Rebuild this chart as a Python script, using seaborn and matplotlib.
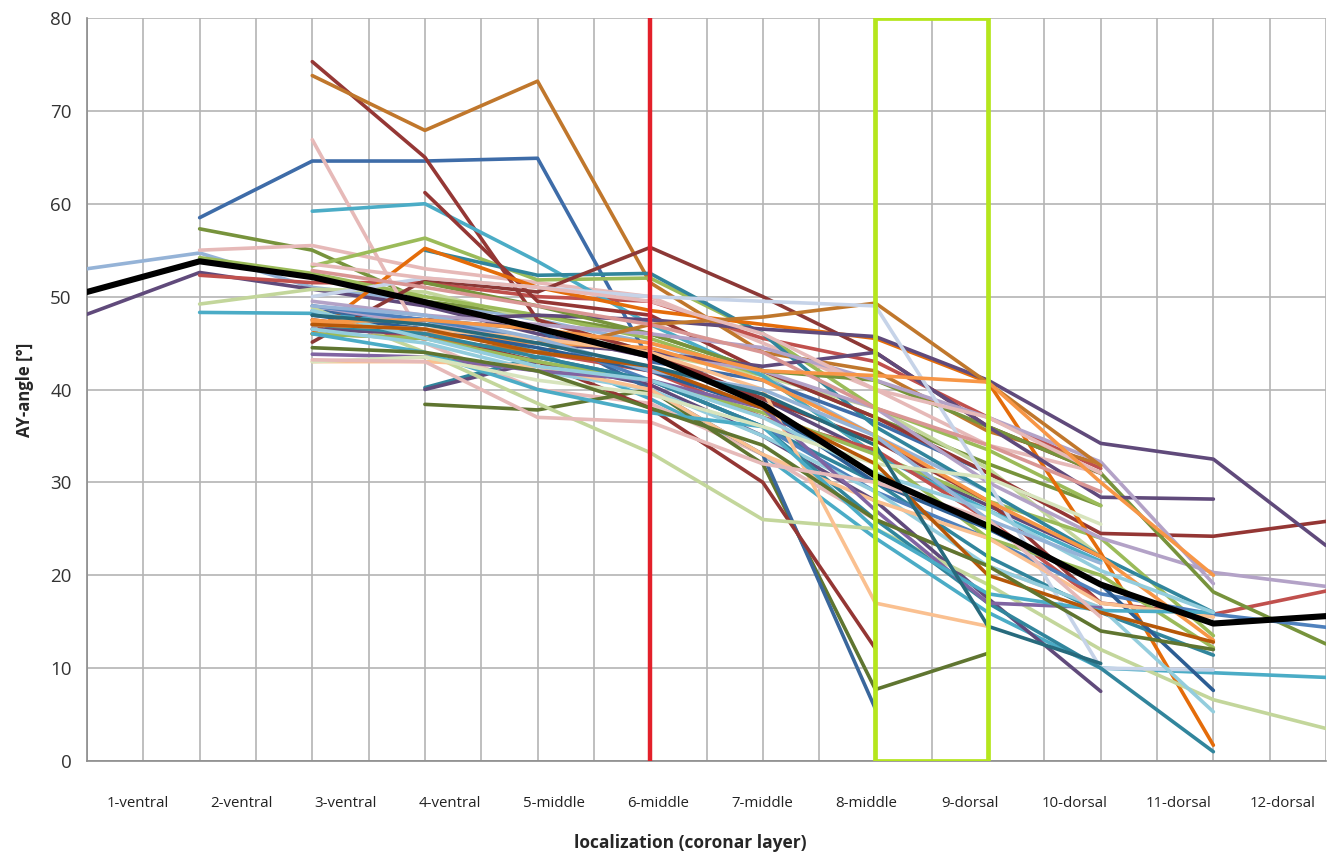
import numpy as np
import pandas as pd
import matplotlib
matplotlib.use("Agg")
import matplotlib.pyplot as plt
import matplotlib.transforms as mtransforms
from matplotlib.patches import Rectangle
import seaborn as sns

N = np.nan

# categories (coronar layers)
layers = ["1-ventral", "2-ventral", "3-ventral", "4-ventral", "5-middle", "6-middle",
          "7-middle", "8-middle", "9-dorsal", "10-dorsal", "11-dorsal", "12-dorsal"]

# mean curve (black)
mean_angle = [50.5, 53.8, 52.1, 49.4, 46.6, 43.6, 38.4, 30.7, 25.3, 19.0, 14.8, 15.6]

# individual specimens, AY-angle per layer (NaN = not measured)
s01 = [53.0, 54.7, 51.0, 49.5, 47.5, 45.0, 41.5, 35.0, 29.0, N, N, N]
s02 = [48.1, 52.6, 50.8, 49.0, 46.0, 43.5, 39.0, 33.0, 27.5, 22.0, N, N]
s03 = [N, 58.5, 64.6, 64.6, 64.9, 43.0, 41.0, 36.5, 31.0, N, N, N]
s04 = [N, 57.3, 55.0, 49.5, 48.0, 46.0, 42.0, 37.0, 32.0, 27.5, N, N]
s05 = [N, 55.0, 55.5, 53.0, 51.5, 50.0, 45.0, 40.0, 34.0, 31.0, N, N]
s06 = [N, 52.3, 51.5, 51.5, 50.0, 49.5, 45.5, 43.0, 37.0, 31.5, N, N]
s07 = [N, 49.2, 50.8, 50.5, 47.5, 44.0, 41.5, 38.0, 31.5, 22.0, N, N]
s08 = [N, 48.3, 48.2, 47.5, 44.0, 39.0, 33.0, 24.0, 16.0, 10.0, 9.5, 9.0]
s09 = [N, 54.2, 52.5, 50.0, 48.0, 45.5, 41.5, 33.0, 28.0, 24.0, 13.5, N]
s10 = [N, N, 75.3, 65.0, 47.5, 44.0, 39.0, 34.5, 28.0, 17.0, N, N]
s11 = [N, N, 73.8, 67.9, 73.2, 51.5, 44.0, 42.0, 35.5, 32.0, N, N]
s12 = [N, N, 66.9, 45.0, 40.0, 38.5, 33.0, 26.0, 21.0, 16.5, N, N]
s13 = [N, N, 59.2, 60.0, 53.8, 47.0, 41.5, 33.0, 27.0, 21.5, N, N]
s14 = [N, N, 53.3, 56.3, 51.8, 52.0, 46.0, 38.0, 33.5, 27.5, N, N]
s15 = [N, N, N, 55.0, 52.3, 52.5, 46.0, 36.0, 29.0, 22.0, 16.0, N]
s16 = [N, N, N, 61.2, 49.5, 48.0, 42.0, 37.0, 31.0, 24.5, 24.2, 25.8]
s17 = [N, N, 46.0, 55.2, 51.0, 48.5, 47.0, 45.5, 40.8, 22.4, 1.7, N]
s18 = [N, N, 45.1, 51.8, 50.5, 55.3, 50.0, 44.0, 36.0, 31.0, N, N]
s19 = [N, N, N, 40.2, 43.5, 41.0, 36.0, 30.0, 22.0, 16.0, 11.4, N]
s20 = [N, N, N, 40.0, 43.0, 40.5, 35.0, 28.0, 17.5, 7.5, N, N]
s21 = [N, N, N, 38.4, 37.8, 40.0, 32.0, 7.7, 11.6, N, N, N]
s22 = [N, N, 48.5, 47.5, 46.5, 40.0, 33.0, 5.6, N, N, N, N]
s23 = [N, N, 47.5, 46.0, 43.0, 38.0, 30.0, 12.1, N, N, N, N]
s24 = [N, N, 47.0, 47.5, 48.0, 47.5, 46.5, 45.7, 41.0, 34.2, 32.5, 23.2]
s25 = [N, N, 49.0, 47.0, 45.5, 44.0, 42.0, 38.0, 30.0, 24.0, 20.3, 18.8]
s26 = [N, N, 47.0, 45.5, 44.0, 42.0, 37.0, 33.5, 26.0, 17.0, 15.8, 18.3]
s27 = [N, N, N, 51.5, 49.0, 46.0, 42.0, 41.0, 36.0, 31.0, 18.2, 12.6]
s28 = [N, N, 49.0, 47.5, 45.5, 41.0, 36.0, 29.0, 24.0, 18.0, 15.8, 14.4]
s29 = [N, N, 48.8, 44.0, 38.5, 33.2, 26.0, 25.0, 19.0, 12.0, 6.6, 3.5]
s30 = [N, N, 46.5, 46.0, 45.0, 44.0, 42.5, 44.0, 36.0, 28.4, 28.2, N]
s31 = [N, N, 49.5, 48.0, 47.0, 46.0, 44.5, 41.0, 37.0, 32.2, 19.1, N]
s32 = [N, N, 46.0, 45.5, 44.0, 47.0, 47.8, 49.3, 40.7, 31.8, N, N]
s33 = [N, N, 50.0, 52.0, 51.0, 50.0, 49.5, 49.0, 30.0, 10.0, 9.8, N]
s34 = [N, N, 47.5, 46.0, 45.0, 44.5, 41.0, 35.0, 28.0, 22.0, 13.0, N]
s35 = [N, N, 46.0, 45.5, 43.0, 41.0, 37.5, 33.0, 24.0, 20.0, 12.2, N]
s36 = [N, N, 48.0, 46.5, 44.5, 42.0, 38.0, 30.0, 25.0, 19.0, 7.6, N]
s37 = [N, N, 46.5, 45.0, 42.0, 40.0, 35.0, 29.0, 21.0, 16.5, 5.3, N]
s38 = [N, N, 47.0, 46.0, 43.5, 41.0, 36.0, 26.0, 17.0, 10.0, 1.0, N]
s39 = [N, N, 47.0, 46.5, 45.5, 44.0, 40.0, 17.0, 14.5, N, N, N]
s40 = [N, N, 43.0, 43.0, 42.5, 40.0, 33.0, 28.0, 24.0, 17.0, 15.5, N]
s41 = [N, N, 53.5, 52.0, 51.0, 49.5, 46.0, 40.0, 37.0, 31.0, N, N]
s42 = [N, N, 52.8, 51.0, 49.0, 47.0, 44.0, 38.0, 34.0, 29.0, N, N]
s43 = [N, N, 43.8, 43.5, 42.0, 41.0, 38.0, 27.0, 17.0, 16.5, N, N]
s44 = [N, N, 46.0, 44.0, 40.0, 37.5, 36.0, 25.0, 18.0, 16.2, 16.0, N]
s45 = [N, N, 48.5, 45.5, 42.5, 41.0, 37.0, 31.0, 27.0, 20.5, 16.0, N]
s46 = [N, N, 49.0, 48.0, 45.5, 42.0, 40.0, 35.0, 26.0, 21.3, N, N]
s47 = [N, N, 43.0, 43.5, 41.0, 39.5, 36.0, 32.0, 30.5, 25.5, N, N]
s48 = [N, N, 47.3, 47.5, 46.5, 45.0, 42.0, 41.5, 40.8, 30.0, 20.0, N]
s49 = [N, N, 47.0, 46.5, 44.0, 42.5, 38.0, 32.0, 20.0, 16.0, 12.8, N]
s50 = [N, N, 44.5, 44.0, 42.0, 38.0, 34.0, 26.0, 21.0, 14.0, 12.0, N]
s51 = [N, N, 43.2, 43.0, 37.0, 36.5, 32.0, 30.0, 26.0, 15.5, N, N]
s52 = [N, N, 48.0, 47.0, 45.0, 42.5, 39.5, 34.0, 14.5, 10.5, N, N]

specimens = [s01, s02, s03, s04, s05, s06, s07, s08, s09, s10, s11, s12, s13,
             s14, s15, s16, s17, s18, s19, s20, s21, s22, s23, s24, s25, s26,
             s27, s28, s29, s30, s31, s32, s33, s34, s35, s36, s37, s38, s39,
             s40, s41, s42, s43, s44, s45, s46, s47, s48, s49, s50, s51, s52]

# excel-like series colours
line_colors = ["#95B3D7", "#604A7B", "#3E6CA8", "#77933C", "#E6B9B8", "#C0504D",
               "#C3D69B", "#4BACC6", "#9BBB59", "#953735", "#C0772C", "#E6B9B8",
               "#4BACC6", "#9BBB59", "#31859C", "#943634", "#E46C0A", "#8C3836",
               "#31859C", "#604A7B", "#5F7530", "#3A679C", "#943634", "#604A7B",
               "#B3A2C7", "#C0504D", "#77933C", "#4F81BD", "#C3D69B", "#604A7B",
               "#B3A2C7", "#C0772C", "#C6D3E8", "#F79646", "#9BBB59", "#2C5D93",
               "#93CDDD", "#31859C", "#FAC090", "#FAC090", "#E6B9B8", "#D99694",
               "#8064A2", "#4BACC6", "#93CDDD", "#95B3D7", "#D7E4BD", "#F79646",
               "#B65708", "#5F7530", "#E6B9B8", "#276A7C"]

rows = []
for i, vals in enumerate(specimens):
    for k, v in enumerate(vals):
        if not np.isnan(v):
            rows.append({"id": f"s{i + 1:02d}", "layer": k, "angle": v})
df = pd.DataFrame(rows)

sns.set_style("white")
plt.rcParams["font.family"] = ["Open Sans", "DejaVu Sans"]

fig = plt.figure(figsize=(13.28, 8.55), dpi=100)
ax = fig.add_axes([87 / 1328, 1 - 761 / 855, (1326 - 87) / 1328, (761 - 18) / 855])

sns.lineplot(data=df, x="layer", y="angle", hue="id", palette=line_colors,
             estimator=None, legend=False, linewidth=2.6, ax=ax, zorder=3)

# mean curve
sns.lineplot(x=np.arange(len(mean_angle)), y=mean_angle, color="black",
             linewidth=4.4, ax=ax, zorder=5)

# red boundary line and green box
ax.plot([5, 5], [0, 80], color="#E3202A", linewidth=3.2, zorder=6)
ax.add_patch(Rectangle((7, 0), 1, 80, fill=False, edgecolor="#B5E61D",
                       linewidth=3.4, zorder=6))

ax.set_xlim(0, 11)
ax.set_ylim(0, 80)
ax.set_yticks(np.arange(0, 81, 10))
ax.set_xticks(np.arange(12))
ax.set_xticklabels([])
ax.set_xticks(np.arange(0.5, 11, 1.0), minor=True)

ax.grid(True, which="major", color="#B4B4B4", linewidth=1.2, zorder=0)
ax.grid(True, which="minor", axis="x", color="#B4B4B4", linewidth=1.2, zorder=0)
ax.set_axisbelow(True)

for side in ["top", "right"]:
    ax.spines[side].set_visible(False)
for side in ["left", "bottom"]:
    ax.spines[side].set_color("#8C8C8C")
    ax.spines[side].set_linewidth(1.2)

ax.tick_params(axis="x", which="major", direction="out", length=6, color="#8C8C8C", width=1.2)
ax.tick_params(axis="x", which="minor", length=0)
ax.tick_params(axis="y", direction="out", length=5, color="#8C8C8C", width=1.2,
               labelsize=13.5, pad=6, labelcolor="#333333")

# category labels (excel placed them slightly shifted)
trans = mtransforms.blended_transform_factory(ax.transData, ax.transAxes)
for k, lab in enumerate(layers):
    ax.text(0.45 + 0.924 * k, -0.057, lab, transform=trans, ha="center", va="center",
            fontsize=10.8, color="#222222")

ax.set_xlabel("")
fig.text(690 / 1328, 1 - 843 / 855, "localization (coronar layer)", ha="center",
         va="center", fontsize=12.5, fontweight="bold")
ax.set_ylabel("AY-angle [°]", fontsize=12, fontweight="bold", labelpad=12)

fig.savefig("out.png", dpi=100)
